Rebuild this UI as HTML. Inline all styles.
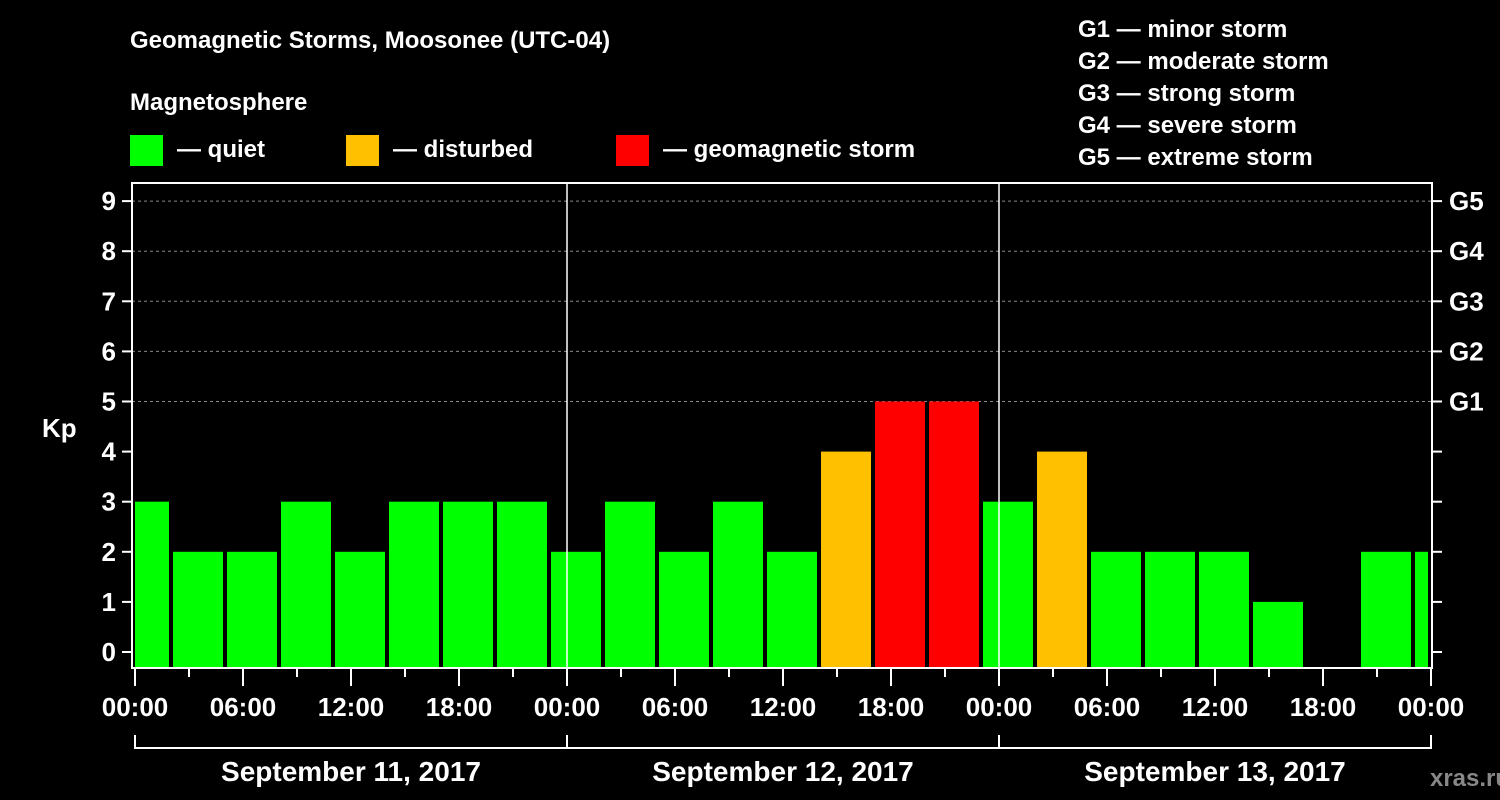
<!DOCTYPE html>
<html><head><meta charset="utf-8"><style>
body{margin:0;background:#000;}
svg{display:block;font-family:"Liberation Sans",sans-serif;font-weight:bold;}
</style></head><body>
<svg width="1500" height="800" viewBox="0 0 1500 800">
<g id="hdr" fill="#fff" font-size="24">
<text x="130" y="48">Geomagnetic Storms, Moosonee (UTC-04)</text>
<text x="130" y="110">Magnetosphere</text>
<rect x="130" y="135" width="33" height="31" fill="#00ff00"/>
<text x="177" y="157">— quiet</text>
<rect x="346" y="135" width="33" height="31" fill="#ffc000"/>
<text x="393" y="157">— disturbed</text>
<rect x="616" y="135" width="33" height="31" fill="#ff0000"/>
<text x="663" y="157">— geomagnetic storm</text>
<text x="1078" y="37">G1 — minor storm</text>
<text x="1078" y="69">G2 — moderate storm</text>
<text x="1078" y="101">G3 — strong storm</text>
<text x="1078" y="133">G4 — severe storm</text>
<text x="1078" y="165">G5 — extreme storm</text>
<text x="42" y="437" font-size="26">Kp</text>
<text x="1470" y="786" fill="#888" font-size="24" text-anchor="middle">xras.ru</text>
</g>
<g id="chart"></g>
</svg>
<script>
const kpValues=[3,2,2,3,2,3,3,3,2,3,2,3,2,4,5,5,3,4,2,2,2,1,0,2,2];
const binStartHours=[-1];
const yTicks=[0,1,2,3,4,5,6,7,8,9];
const gLabels=["","","","","","G1","G2","G3","G4","G5"];
const xTickLabels=["00:00","06:00","12:00","18:00","00:00","06:00","12:00","18:00","00:00","06:00","12:00","18:00","00:00"];
const dayLabels=["September 11, 2017","September 12, 2017","September 13, 2017"];
const NS="http://www.w3.org/2000/svg";
const g=document.getElementById('chart');
const X0=135,PXH=18,L=132,R=1432,T=183,B=668;
const xs=h=>X0+h*PXH;
const ys=v=>652-v*50.1;
function mk(t,a,p){const e=document.createElementNS(NS,t);for(const k in a)e.setAttribute(k,a[k]);(p||g).appendChild(e);return e;}
// grid
for(let i=5;i<=9;i++){const e=mk('line',{x1:L,x2:R,y1:ys(yTicks[i]),y2:ys(yTicks[i]),stroke:'#888','stroke-dasharray':'3,3'});

}
// bars
kpValues.forEach((v,k)=>{
 const h0=binStartHours[0]+3*k;
 let x1=Math.max(xs(h0)+2,X0),x2=Math.min(xs(h0+3)-2,1428);
 const c=v>=5?'#ff0000':(v>=4?'#ffc000':'#00ff00');
 const top=v>0?ys(v):B;
 const e=mk('rect',{x:x1,y:top,width:x2-x1,height:B-top,fill:c});
 
 
});
// day separators
[24,48].forEach(h=>{const e=mk('line',{x1:xs(h),x2:xs(h),y1:T,y2:B,stroke:'#fff','stroke-width':1.5});

});
// frame
const f=mk('rect',{x:L,y:T,width:R-L,height:B-T,fill:'none',stroke:'#fff','stroke-width':2});


// y ticks
yTicks.forEach((v,i)=>{
 mk('line',{x1:122,x2:L,y1:ys(v),y2:ys(v),stroke:'#fff','stroke-width':2});
 mk('line',{x1:R,x2:1442,y1:ys(v),y2:ys(v),stroke:'#fff','stroke-width':2});
 const t=mk('text',{x:116,y:ys(v)+9,fill:'#fff','font-size':26,'text-anchor':'end'});t.textContent=v;
 
 
 if(gLabels[i]){const s=mk('text',{x:1449,y:ys(v)+9,fill:'#fff','font-size':26});s.textContent=gLabels[i];
 
 }
});
// x ticks
for(let h=0;h<=72;h+=3){mk('line',{x1:xs(h),x2:xs(h),y1:B,y2:h%6==0?686:677,stroke:'#fff','stroke-width':2});}
xTickLabels.forEach((s,i)=>{const t=mk('text',{x:xs(i*6),y:716,fill:'#fff','font-size':26,'text-anchor':'middle'});t.textContent=s;

});
// date bracket
mk('polyline',{points:`${xs(0)},735 ${xs(0)},748 ${xs(72)},748 ${xs(72)},735`,fill:'none',stroke:'#fff','stroke-width':2});
[24,48].forEach(h=>mk('line',{x1:xs(h),x2:xs(h),y1:735,y2:748,stroke:'#fff','stroke-width':2}));
dayLabels.forEach((s,i)=>{const t=mk('text',{x:xs(i*24+12),y:781,fill:'#fff','font-size':28,'text-anchor':'middle'});t.textContent=s;

});
</script>
</body></html>
